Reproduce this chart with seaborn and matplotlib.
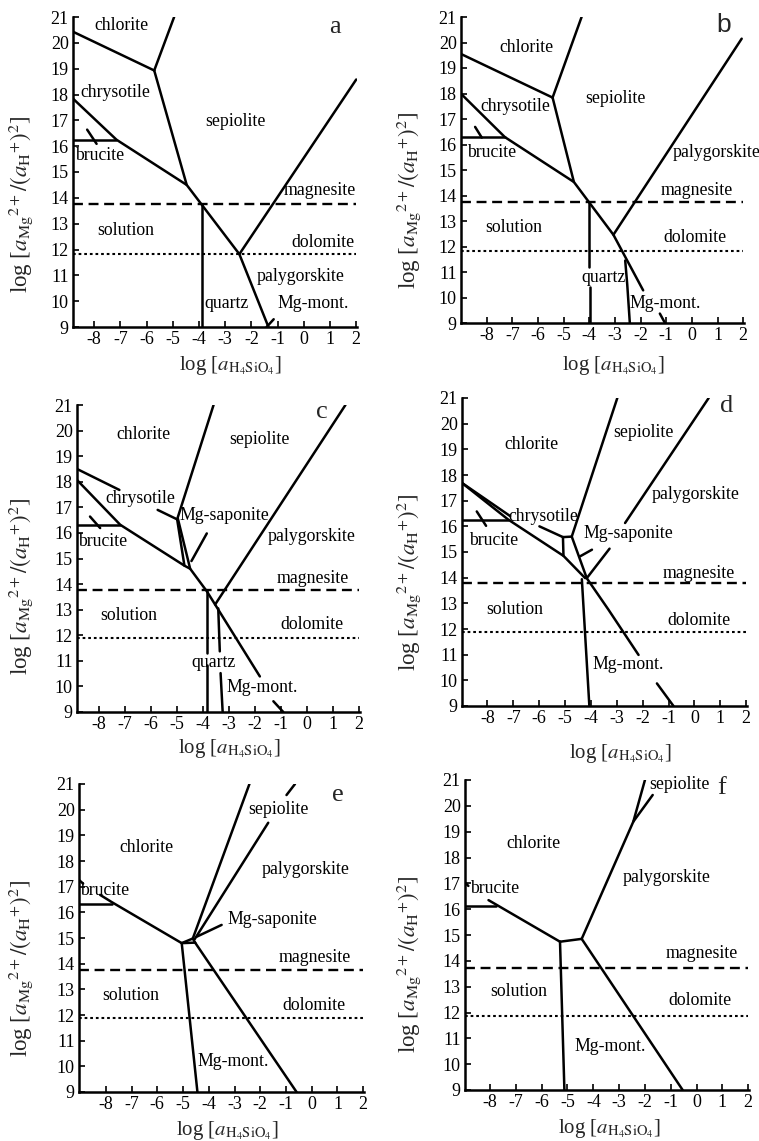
import numpy as np
import pandas as pd
import matplotlib
matplotlib.use("Agg")
import matplotlib.pyplot as plt
import seaborn as sns

sns.set_theme(style="white")
plt.rcParams["font.family"] = ["Liberation Serif", "DejaVu Serif"]
plt.rcParams["mathtext.fontset"] = "stix"
plt.rcParams["axes.unicode_minus"] = False

# ---------------- data ----------------
X_TICKS = [-8, -7, -6, -5, -4, -3, -2, -1, 0, 1, 2]
Y_TICKS = list(range(9, 22))
X_TICK_LABELS = [str(v) for v in X_TICKS]
Y_TICK_LABELS = [str(v) for v in Y_TICKS]

PANELS = ["a", "b", "c", "d", "e", "f"]
XMIN = [-8.81, -9.0, -8.85, -8.98, -9.04, -8.97]
XMAX = 2.0
MAGNESITE_Y = [13.76, 13.75, 13.78, 13.78, 13.76, 13.73]
DOLOMITE_Y = [11.82, 11.82, 11.89, 11.87, 11.90, 11.88]

LINES_A = [
    [(-8.81, 20.43), (-5.71, 18.93)],
    [(-5.71, 18.93), (-4.95, 21.0)],
    [(-5.71, 18.93), (-4.47, 14.5), (-2.46, 11.82), (-1.35, 9.0)],
    [(-8.81, 17.84), (-7.15, 16.25), (-4.47, 14.5)],
    [(-8.81, 16.25), (-7.15, 16.25)],
    [(-8.27, 16.64), (-7.91, 16.09)],
    [(-3.87, 13.75), (-3.87, 9.0)],
    [(-2.46, 11.82), (2.0, 18.58)],
    [(-1.42, 9.0), (-1.15, 9.3)],
]
LINES_B = [
    [(-9.0, 19.55), (-5.43, 17.84)],
    [(-5.43, 17.84), (-4.30, 21.0)],
    [(-5.43, 17.84), (-4.6, 14.53), (-3.06, 12.46), (-1.9, 10.28)],
    [(-9.0, 17.99), (-7.29, 16.29), (-4.6, 14.53)],
    [(-9.0, 16.29), (-7.29, 16.29)],
    [(-8.45, 16.69), (-8.19, 16.27)],
    [(-4.0, 13.75), (-4.0, 11.2)],
    [(-3.98, 10.4), (-3.98, 9.0)],
    [(-2.6, 11.45), (-2.52, 10.5), (-2.42, 9.0)],
    [(-3.06, 12.46), (1.94, 20.15)],
    [(-1.25, 9.37), (-1.05, 9.0)],
]
LINES_C = [
    [(-8.85, 18.5), (-7.22, 17.68)],
    [(-5.75, 16.9), (-5.0, 16.53)],
    [(-5.0, 16.53), (-3.6, 21.0)],
    [(-5.0, 16.53), (-4.72, 14.72)],
    [(-4.97, 16.55), (-4.5, 14.6), (-3.86, 13.72), (-3.54, 13.2), (-1.82, 10.39)],
    [(-8.85, 18.07), (-7.19, 16.32), (-4.72, 14.72), (-4.5, 14.6)],
    [(-8.85, 16.32), (-7.19, 16.32)],
    [(-8.35, 16.64), (-7.96, 16.19)],
    [(-3.86, 15.98), (-4.45, 14.9)],
    [(-3.86, 13.72), (-3.86, 11.3)],
    [(-3.84, 10.85), (-3.84, 9.0)],
    [(-3.42, 13.05), (-3.36, 11.37)],
    [(-3.33, 10.52), (-3.25, 9.0)],
    [(-3.54, 13.2), (1.47, 21.0)],
    [(-1.3, 9.42), (-0.92, 9.0)],
]
LINES_D = [
    [(-8.98, 17.69), (-7.12, 16.4)],
    [(-5.99, 16.0), (-5.08, 15.58)],
    [(-5.08, 15.58), (-4.74, 15.6)],
    [(-5.08, 15.58), (-5.06, 14.85)],
    [(-8.98, 17.69), (-7.19, 16.26), (-5.06, 14.85), (-4.22, 13.98)],
    [(-8.98, 16.26), (-7.19, 16.26)],
    [(-8.41, 16.58), (-8.05, 16.02)],
    [(-4.74, 15.6), (-2.98, 21.0)],
    [(-4.74, 15.6), (-4.16, 13.98), (-3.32, 12.75), (-2.16, 10.99)],
    [(-4.16, 13.98), (-3.28, 15.13)],
    [(-2.68, 16.13), (0.55, 21.0)],
    [(-4.35, 13.94), (-4.06, 9.0)],
    [(-4.42, 14.83), (-3.96, 15.09)],
    [(-1.45, 9.88), (-0.81, 9.0)],
]
LINES_E = [
    [(-9.04, 17.26), (-8.88, 17.12)],
    [(-8.22, 16.68), (-7.77, 16.4), (-5.05, 14.8)],
    [(-9.04, 16.33), (-7.77, 16.33)],
    [(-5.05, 14.8), (-4.53, 14.82)],
    [(-5.05, 14.8), (-4.62, 14.98), (-4.53, 14.82)],
    [(-5.05, 14.8), (-4.44, 9.0)],
    [(-4.53, 14.82), (-0.59, 9.0)],
    [(-4.62, 14.98), (-2.42, 21.0)],
    [(-4.55, 14.95), (-1.69, 19.49)],
    [(-0.98, 20.57), (-0.65, 21.0)],
    [(-4.47, 15.05), (-3.5, 15.51)],
]
LINES_F = [
    [(-8.97, 17.03), (-8.84, 16.9)],
    [(-8.97, 16.14), (-7.78, 16.14)],
    [(-8.06, 16.35), (-5.29, 14.74)],
    [(-5.29, 14.74), (-4.45, 14.85)],
    [(-5.29, 14.74), (-5.12, 9.0)],
    [(-4.45, 14.85), (-0.54, 9.0)],
    [(-4.45, 14.85), (-2.45, 19.39), (-2.0, 21.0)],
    [(-2.45, 19.39), (-1.7, 20.42)],
]

LABELS_A = [("chlorite", -6.96, 20.68), ("chrysotile", -7.21, 18.06), ("sepiolite", -2.62, 16.96),
            ("brucite", -7.78, 15.64), ("magnesite", 0.6, 14.28), ("solution", -6.79, 12.75),
            ("dolomite", 0.73, 12.28), ("palygorskite", -0.14, 10.94), ("quartz", -2.94, 9.9),
            ("Mg-mont.", 0.34, 9.9)]
LABELS_B = [("chlorite", -6.44, 19.82), ("sepiolite", -3.0, 17.82), ("chrysotile", -6.9, 17.5),
            ("brucite", -7.8, 15.67), ("palygorskite", 0.96, 15.7), ("magnesite", 0.18, 14.2),
            ("solution", -6.96, 12.73), ("dolomite", 0.12, 12.37), ("quartz", -3.45, 10.8),
            ("Mg-mont.", -1.05, 9.76)]
LABELS_C = [("chlorite", -6.3, 19.83), ("sepiolite", -1.82, 19.64), ("chrysotile", -6.43, 17.36),
            ("Mg-saponite", -3.2, 16.7), ("palygorskite", 0.17, 15.86), ("brucite", -7.86, 15.67),
            ("magnesite", 0.23, 14.23), ("solution", -6.85, 12.76), ("dolomite", 0.17, 12.41),
            ("quartz", -3.6, 10.94), ("Mg-mont.", -1.75, 9.94)]
LABELS_D = [("sepiolite", -1.97, 19.64), ("chlorite", -6.29, 19.18), ("palygorskite", 0.03, 17.23),
            ("chrysotile", -5.84, 16.39), ("Mg-saponite", -2.55, 15.71), ("brucite", -7.77, 15.45),
            ("magnesite", 0.16, 14.18), ("solution", -6.93, 12.75), ("dolomite", 0.16, 12.35),
            ("Mg-mont.", -2.55, 10.6)]
LABELS_E = [("sepiolite", -1.3, 20.01), ("chlorite", -6.41, 18.53), ("palygorskite", -0.22, 17.65),
            ("brucite", -8.03, 16.87), ("Mg-saponite", -1.52, 15.73), ("magnesite", 0.12, 14.25),
            ("solution", -7.03, 12.75), ("dolomite", 0.09, 12.36), ("Mg-mont.", -3.05, 10.19)]
LABELS_F = [("sepiolite", -0.65, 20.81), ("chlorite", -6.32, 18.55), ("palygorskite", -1.16, 17.23),
            ("brucite", -7.81, 16.81), ("magnesite", 0.19, 14.29), ("solution", -6.9, 12.81),
            ("dolomite", 0.13, 12.46), ("Mg-mont.", -3.35, 10.68)]

LETTER_POS = [(1.2, 20.6), (1.22, 20.67), (0.55, 20.74), (1.25, 20.68), (1.03, 20.57), (0.97, 20.68)]

ALL_LINES = [LINES_A, LINES_B, LINES_C, LINES_D, LINES_E, LINES_F]
ALL_LABELS = [LABELS_A, LABELS_B, LABELS_C, LABELS_D, LABELS_E, LABELS_F]

XLABEL = r"log [$a_{\mathrm{H_4SiO_4}}$]"
YLABEL = r"log [$a_{\mathrm{Mg}}{}^{2+}/(a_{\mathrm{H}}{}^{+})^{2}$]"

# ---------------- layout (pixels: left, top, right, bottom) ----------------
W, H = 759, 1141
BOXES = [(73, 17, 357, 327), (461, 17, 744, 323),
         (77, 405, 360, 712), (462, 398, 747, 706),
         (79, 784, 364, 1092), (465, 780, 749, 1090)]
YLABEL_POS = [(-0.134, 0.395), (-0.134, 0.40), (-0.148, 0.41), (-0.137, 0.40), (-0.154, 0.40), (-0.148, 0.405)]
XLABEL_POS = [(0.555, -0.087), (0.54, -0.101), (0.54, -0.081), (0.556, -0.117), (0.52, -0.088), (0.51, -0.087)]

fig = plt.figure(figsize=(W / 100, H / 100), dpi=100)
fig.patch.set_facecolor("white")

LW = 1.8
for i, pid in enumerate(PANELS):
    l, t, r, b = BOXES[i]
    ax = fig.add_axes([l / W, 1 - b / H, (r - l) / W, (b - t) / H])
    ax.set_facecolor("white")

    rows = []
    for k, line in enumerate(ALL_LINES[i]):
        for j, (x, y) in enumerate(line):
            rows.append({"seg": k, "order": j, "x": x, "y": y})
    df = pd.DataFrame(rows)
    sns.lineplot(data=df, x="x", y="y", units="seg", estimator=None, sort=False,
                 color="black", lw=LW, ax=ax, legend=False)

    xmin = XMIN[i]
    mag = pd.DataFrame({"x": [xmin, XMAX], "y": [MAGNESITE_Y[i]] * 2})
    dol = pd.DataFrame({"x": [xmin, XMAX], "y": [DOLOMITE_Y[i]] * 2})
    sns.lineplot(data=mag, x="x", y="y", color="black", lw=1.7,
                 linestyle=(0, (4.2, 2.4)), ax=ax, legend=False)
    sns.lineplot(data=dol, x="x", y="y", color="black", lw=1.5,
                 linestyle=(0, (1.3, 1.4)), ax=ax, legend=False)

    for (txt, x, y) in ALL_LABELS[i]:
        ax.text(x, y, txt, ha="center", va="center", fontsize=12.8, color="black")

    lx, ly = LETTER_POS[i]
    if pid == "b":
        ax.text(lx, ly, pid, ha="center", va="center", fontsize=19,
                family=["Liberation Sans", "DejaVu Sans"])
    else:
        ax.text(lx, ly, pid, ha="center", va="center", fontsize=19)

    ax.set_xlim(xmin, 2.03)
    ax.set_ylim(9, 21)
    ax.set_xticks(X_TICKS)
    ax.set_xticklabels(X_TICK_LABELS)
    ax.set_yticks(Y_TICKS)
    ax.set_yticklabels(Y_TICK_LABELS)
    ax.tick_params(direction="in", length=4, width=1.2, colors="black",
                   labelsize=13, pad=3, bottom=True, left=True)
    for s in ["top", "right"]:
        ax.spines[s].set_visible(False)
    for s in ["left", "bottom"]:
        ax.spines[s].set_color("black")
        ax.spines[s].set_linewidth(LW)
    ax.grid(False)

    ax.set_xlabel(XLABEL, fontsize=15)
    ax.set_ylabel(YLABEL, fontsize=16.5)
    ax.xaxis.set_label_coords(*XLABEL_POS[i])
    ax.yaxis.set_label_coords(*YLABEL_POS[i])

fig.savefig("out.png", dpi=100, facecolor="white")
